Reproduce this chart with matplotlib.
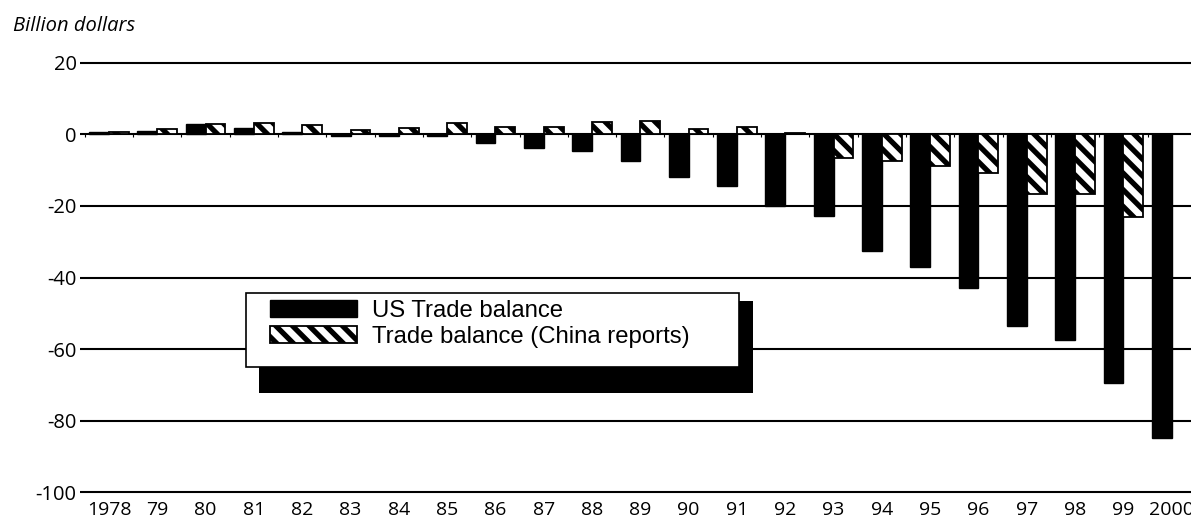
import numpy as np
import matplotlib.pyplot as plt
from matplotlib.patches import Rectangle

years = ['1978', '79', '80', '81', '82', '83', '84', '85', '86', '87', '88', '89',
         '90', '91', '92', '93', '94', '95', '96', '97', '98', '99', '2000']

us_balance = [0.5, 1.0, 2.8, 1.8, 0.6, -0.5, -0.4, -0.4, -2.4, -3.7, -4.6, -7.4,
              -11.8, -14.4, -20.0, -22.7, -32.5, -37.0, -42.8, -53.5, -57.5, -69.4, -84.7]

china_balance = [0.5, 1.4, 2.9, 3.1, 2.6, 1.2, 1.7, 3.1, 2.0, 2.0, 3.4, 3.6,
                 1.4, 2.1, 0.4, -6.7, -7.6, -8.9, -10.7, -16.8, -16.7, -23.0, np.nan]

plt.rcParams['font.family'] = 'Open Sans'
plt.rcParams['axes.unicode_minus'] = False
plt.rcParams['hatch.linewidth'] = 3.8

W, H = 1191, 522
fig = plt.figure(figsize=(W / 100, H / 100), dpi=100)
ax = fig.add_axes([80 / W, (H - 499.5) / H, 1 - 80 / W, (499.5 - 55.5) / H])

x = np.arange(len(years))
w = 0.41
ax.bar(x, us_balance, width=-w, align='edge', color='black', edgecolor='black',
       linewidth=1, label='US Trade balance', zorder=3)
ax.bar(x, china_balance, width=w, align='edge', facecolor='white', edgecolor='black',
       hatch='\\\\', linewidth=1.3, label='Trade balance (China reports)', zorder=3)

# small ticks on the zero line between years
ax.vlines(x - 0.5, -0.8, 0, color='black', lw=0.8, zorder=2)

ax.set_xlim(-0.6, 22.4)
ax.set_ylim(-102, 22)
ax.set_yticks(range(-100, 21, 20))
ax.set_xticks(x)
ax.set_xticklabels(years)
ax.grid(axis='y', color='black', lw=1.5)
ax.set_axisbelow(True)
for s in ax.spines.values():
    s.set_visible(False)
ax.tick_params(axis='y', length=0, labelsize=14.5, pad=2.5)
ax.tick_params(axis='x', length=0, labelsize=14, pad=1)

fig.text(13 / W, (H - 31) / H, 'Billion dollars', style='italic', fontsize=14.5,
         va='baseline', ha='left')

# legend box with its offset shadow
fig.add_artist(Rectangle((259 / W, (H - 393.3) / H), (752.7 - 259) / W, (393.3 - 300.7) / H,
                         transform=fig.transFigure, facecolor='black', edgecolor='none', zorder=3))
fig.add_artist(Rectangle((246 / W, (H - 367.3) / H), (739.3 - 246) / W, (367.3 - 292.7) / H,
                         transform=fig.transFigure, facecolor='white', edgecolor='black',
                         lw=1.2, zorder=4))

handles, labels = ax.get_legend_handles_labels()
fig.legend(handles, labels, loc='upper left', bbox_to_anchor=(270 / W, (H - 300) / H),
           frameon=False, borderpad=0, borderaxespad=0, handlelength=3.65,
           handleheight=0.74, handletextpad=0.6, labelspacing=0.15,
           prop={'family': 'Liberation Sans', 'size': 17.2})

fig.savefig('out.png', dpi=100)
